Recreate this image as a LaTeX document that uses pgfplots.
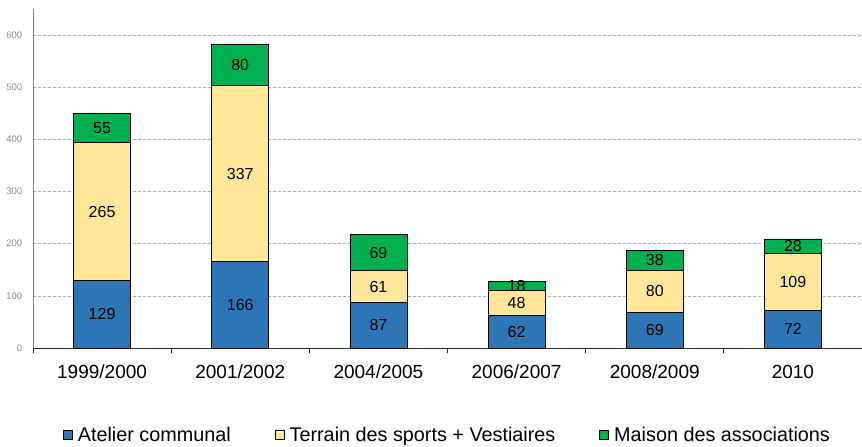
\documentclass[border=0pt]{standalone}
\usepackage{fontspec}
\setmainfont{Liberation Sans}
\usepackage{pgfplots}
\usepackage{pgfplotstable}
\pgfplotsset{compat=1.18}
\definecolor{cblue}{RGB}{46,117,182}
\definecolor{cyel}{RGB}{255,230,153}
\definecolor{cgreen}{RGB}{0,176,80}
\pgfplotstableread{
x a b c
0 129 265 55
1 166 337 80
2 87 61 69
3 62 48 18
4 69 80 38
5 72 109 28
}\data
\begin{document}
\begin{tikzpicture}
\begin{axis}[
  scale only axis,
  width=829pt, height=339pt,
  ybar stacked, bar width=57pt,
  xmin=-0.5, xmax=5.5, ymin=0, ymax=650,
  axis lines*=left,
  x axis line style={black!85, line width=0.8pt},
  y axis line style={black!50, line width=0.8pt},
  xtick={0,...,5},
  xticklabels={1999/2000,2001/2002,2004/2005,2006/2007,2008/2009,2010},
  minor xtick={-0.5,0.5,...,5.5},
  major x tick style={draw=none},
  minor x tick style={black!85, line width=0.8pt},
  minor tick length=5pt,
  tick align=outside,
  xticklabel style={font=\fontsize{19}{21}\selectfont, yshift=-9pt},
  ytick={0,100,...,600},
  major y tick style={draw=none},
  yticklabel style={font=\fontsize{9.5}{11}\selectfont, text=black!45, xshift=-3pt},
  /pgf/number format/assume math mode=true,
  ymajorgrids,
  grid style={black!30, dash pattern=on 3pt off 2pt, line width=0.6pt},
  nodes near coords,
  point meta=explicit,
  every node near coord/.append style={anchor=center, font=\fontsize{16}{18}\selectfont, text=black},
  legend columns=3,
  legend style={draw=none, at={(0.5,-0.257)}, anchor=center, font=\fontsize{19.8}{22}\selectfont,
    /tikz/every odd column/.append style={column sep=3pt},
    /tikz/every even column/.append style={column sep=42pt}},
  legend image code/.code={\draw[#1, draw=black, line width=0.8pt] (0pt,-4.5pt) rectangle (9pt,4.5pt);},
]
\addplot[fill=cblue, draw=black, line width=0.8pt] table[x=x, y=a, meta=a] {\data};
\addplot[fill=cyel, draw=black, line width=0.8pt] table[x=x, y=b, meta=b] {\data};
\addplot[fill=cgreen, draw=black, line width=0.8pt] table[x=x, y=c, meta=c] {\data};
\legend{Atelier communal, Terrain des sports + Vestiaires, Maison des associations}
\coordinate (O) at (rel axis cs:0,0);
\coordinate (T) at (rel axis cs:1,1);
\end{axis}
\pgfresetboundingbox
\path (O) ++(-33pt,-98pt) rectangle (T) ++(0pt,9pt);
\end{tikzpicture}
\end{document}
